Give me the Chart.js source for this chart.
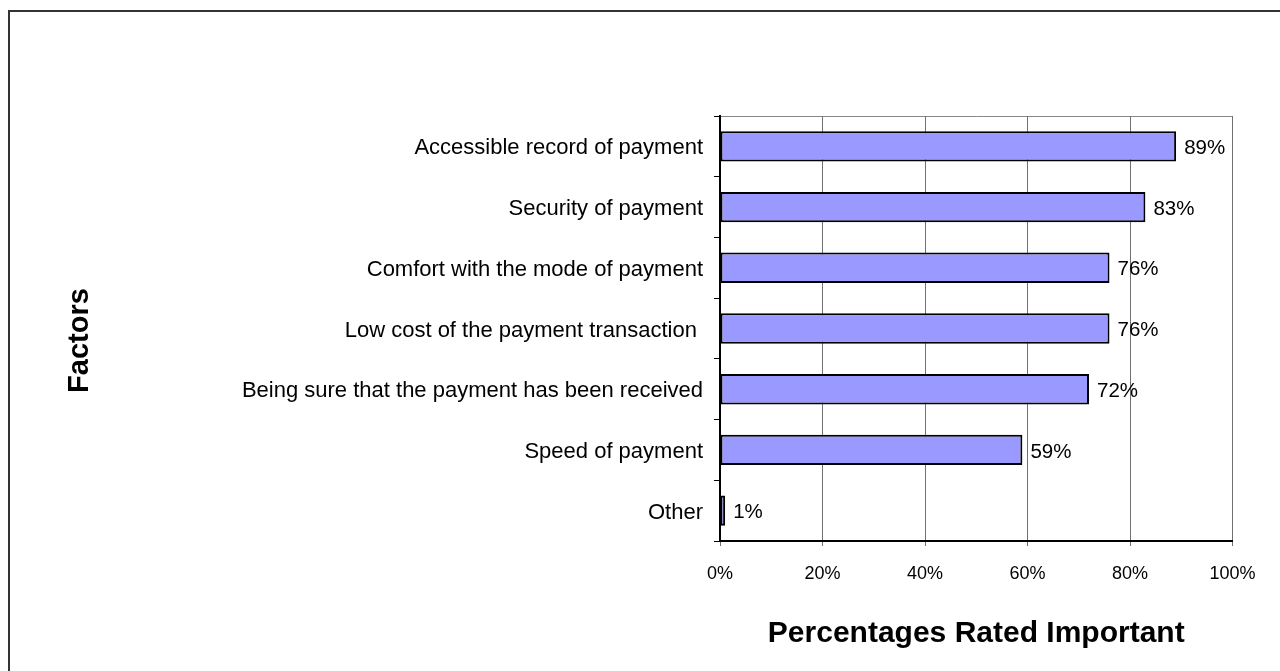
<!DOCTYPE html>
<html>
<head>
<meta charset="utf-8">
<script src="https://cdn.jsdelivr.net/npm/chart.js@4.4.1/dist/chart.umd.min.js"></script>
<style>
  html, body { margin: 0; padding: 0; background: #ffffff; }
  #wrap { width: 1280px; height: 671px; position: relative; }
</style>
</head>
<body>
<div id="wrap"><canvas id="chart" width="1280" height="671"></canvas></div>
<script>
// Factors and the share of respondents rating each one important
const factors = [
  'Accessible record of payment',
  'Security of payment',
  'Comfort with the mode of payment',
  'Low cost of the payment transaction ',
  'Being sure that the payment has been received',
  'Speed of payment',
  'Other'
];
const percentRatedImportant = [89, 83, 76, 76, 72, 59, 1];
const xTickValues = [0, 20, 40, 60, 80, 100];

const FONT = "'Liberation Sans', Arial, sans-serif";

// Outer frame and the light top edge of the plot box
const framePlugin = {
  id: 'frame',
  beforeDraw(chart) {
    const ctx = chart.ctx;
    const a = chart.chartArea;
    ctx.save();
    ctx.strokeStyle = '#333333';
    ctx.lineWidth = 2;
    ctx.beginPath();
    ctx.moveTo(9, 671);
    ctx.lineTo(9, 11);
    ctx.lineTo(1280, 11);
    ctx.stroke();
    ctx.strokeStyle = '#888888';
    ctx.lineWidth = 1;
    ctx.beginPath();
    ctx.moveTo(a.left, Math.round(a.top) + 0.5);
    ctx.lineTo(a.right, Math.round(a.top) + 0.5);
    ctx.stroke();
    ctx.restore();
  }
};

// Percentage written just past the end of each bar
const valueLabelPlugin = {
  id: 'valueLabels',
  afterDatasetsDraw(chart) {
    const ctx = chart.ctx;
    const meta = chart.getDatasetMeta(0);
    ctx.save();
    ctx.font = '20.5px ' + FONT;
    ctx.fillStyle = '#000000';
    ctx.textAlign = 'left';
    ctx.textBaseline = 'middle';
    meta.data.forEach((bar, i) => {
      ctx.fillText(percentRatedImportant[i] + '%', bar.x + 8, bar.y + 2);
    });
    ctx.restore();
  }
};

new Chart(document.getElementById('chart'), {
  type: 'bar',
  data: {
    labels: factors,
    datasets: [{
      data: percentRatedImportant,
      backgroundColor: '#9999FF',
      borderColor: '#000000',
      borderWidth: { top: 2, bottom: 2, left: 2, right: 2 },
      borderSkipped: false,
      barPercentage: 0.5,
      categoryPercentage: 1
    }]
  },
  options: {
    indexAxis: 'y',
    responsive: false,
    animation: false,
    devicePixelRatio: 1,
    layout: { padding: { top: 116, right: 47.5, left: 0, bottom: 0 } },
    plugins: {
      legend: { display: false },
      tooltip: { enabled: false }
    },
    scales: {
      x: {
        min: 0,
        max: 100,
        afterFit(scale) { scale.height = 130; },
        afterBuildTicks(scale) { scale.ticks = xTickValues.map(v => ({ value: v })); },
        ticks: {
          callback: v => v + '%',
          font: { family: FONT, size: 18 },
          color: '#000000',
          padding: 17,
          maxRotation: 0,
          autoSkip: false
        },
        grid: { color: '#707070', lineWidth: 1, tickLength: 5 },
        border: { color: '#000000', width: 2 },
        title: {
          display: true,
          text: 'Percentages Rated Important',
          font: { family: FONT, size: 30, weight: 'bold' },
          color: '#000000',
          padding: { top: 0, bottom: 19 }
        }
      },
      y: {
        afterFit(scale) { scale.width = 720; },
        ticks: {
          font: { family: FONT, size: 22 },
          color: '#000000',
          padding: 11,
          labelOffset: 2,
          autoSkip: false
        },
        grid: { drawOnChartArea: false, tickLength: 6, color: '#000000', offset: true },
        border: { color: '#000000', width: 2 },
        title: {
          display: true,
          text: 'Factors   ',
          font: { family: FONT, size: 29, weight: 'bold' },
          color: '#000000',
          padding: { top: 63, bottom: 0 }
        }
      }
    }
  },
  plugins: [framePlugin, valueLabelPlugin]
});
</script>
</body>
</html>
